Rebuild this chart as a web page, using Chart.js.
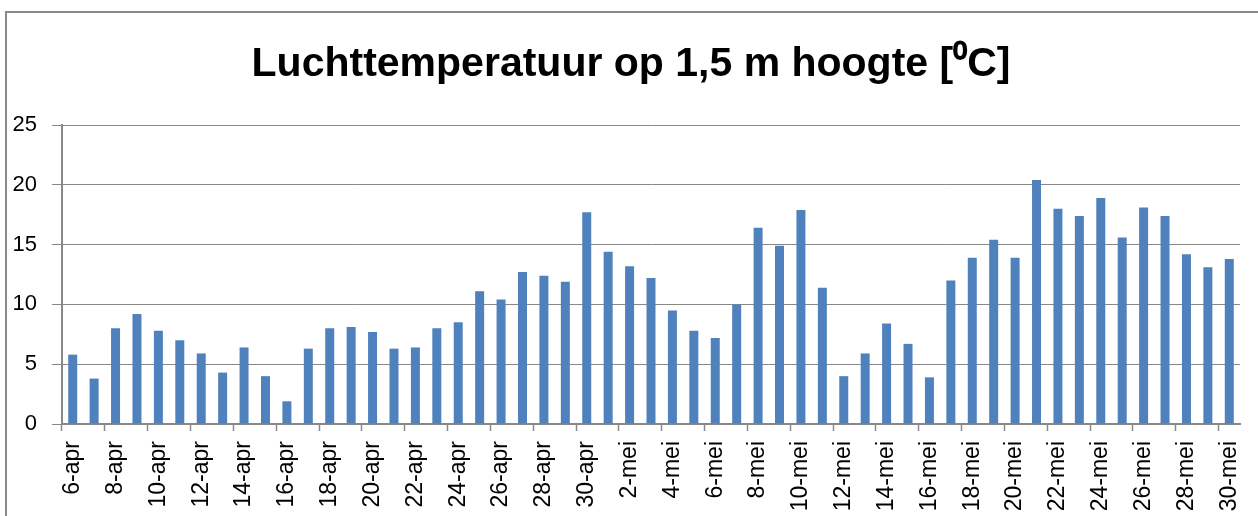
<!DOCTYPE html>
<html>
<head>
<meta charset="utf-8">
<script src="https://cdn.jsdelivr.net/npm/chart.js@4/dist/chart.umd.min.js"></script>
<style>
  html, body { margin: 0; padding: 0; background: #ffffff; overflow: hidden; }
  #wrap { position: relative; width: 1258px; height: 516px; }
  #frame { position: absolute; left: 5px; top: 11px; width: 1300px; height: 600px;
           border-top: 2px solid #8a8a8a; border-left: 2px solid #8a8a8a; pointer-events: none; }
  canvas { position: absolute; left: 0; top: 0; }
</style>
</head>
<body>
<div id="wrap">
  <canvas id="c" width="1258" height="516"></canvas>
  <div id="frame"></div>
</div>
<script>
const chartTitle = "Luchttemperatuur op 1,5 m hoogte [\u2070C]";

const categories = [
  "6-apr","7-apr","8-apr","9-apr","10-apr","11-apr","12-apr","13-apr","14-apr","15-apr",
  "16-apr","17-apr","18-apr","19-apr","20-apr","21-apr","22-apr","23-apr","24-apr","25-apr",
  "26-apr","27-apr","28-apr","29-apr","30-apr",
  "1-mei","2-mei","3-mei","4-mei","5-mei","6-mei","7-mei","8-mei","9-mei","10-mei",
  "11-mei","12-mei","13-mei","14-mei","15-mei","16-mei","17-mei","18-mei","19-mei","20-mei",
  "21-mei","22-mei","23-mei","24-mei","25-mei","26-mei","27-mei","28-mei","29-mei","30-mei"
];

const temperature = [
  5.8, 3.8, 8.0, 9.2, 7.8, 7.0, 5.9, 4.3, 6.4, 4.0,
  1.9, 6.3, 8.0, 8.1, 7.7, 6.3, 6.4, 8.0, 8.5, 11.1,
  10.4, 12.7, 12.4, 11.9, 17.7,
  14.4, 13.2, 12.2, 9.5, 7.8, 7.2, 10.0, 16.4, 14.9, 17.9,
  11.4, 4.0, 5.9, 8.4, 6.7, 3.9, 12.0, 13.9, 15.4, 13.9,
  20.4, 18.0, 17.4, 18.9, 15.6, 18.1, 17.4, 14.2, 13.1, 13.8
];

const yTicks = [0, 5, 10, 15, 20, 25];

const FONT = "'Liberation Sans', Arial, sans-serif";
const GRID = '#888888';

const titlePlugin = {
  id: 'pageTitle',
  afterDraw(chart) {
    const ctx = chart.ctx;
    ctx.save();
    ctx.font = "bold 41px " + FONT;
    ctx.fillStyle = '#000000';
    ctx.textAlign = 'center';
    ctx.textBaseline = 'middle';
    ctx.fillText(chartTitle, 631, 65);
    ctx.restore();
  }
};

new Chart(document.getElementById('c'), {
  type: 'bar',
  data: {
    labels: categories,
    datasets: [{
      label: 'Luchttemperatuur',
      data: temperature,
      backgroundColor: '#4f81bd',
      borderWidth: 0,
      categoryPercentage: 1.0,
      barPercentage: 0.42
    }]
  },
  plugins: [titlePlugin],
  options: {
    responsive: false,
    animation: false,
    devicePixelRatio: 1,
    layout: { padding: { left: 0, right: 18, top: 125, bottom: 0 } },
    plugins: {
      legend: { display: false },
      tooltip: { enabled: false },
      title: { display: false }
    },
    scales: {
      x: {
        offset: true,
        grid: {
          offset: true,
          drawOnChartArea: false,
          drawTicks: true,
          tickLength: 7,
          tickWidth: 1.5,
          tickColor: (ctx) => (ctx.index !== undefined && ctx.index % 2 === 0) ? GRID : 'rgba(0,0,0,0)'
        },
        border: { display: true, color: GRID, width: 2 },
        ticks: {
          autoSkip: false,
          maxRotation: 90,
          minRotation: 90,
          padding: 10,
          color: '#000000',
          font: { family: FONT, size: 23 },
          callback: function (val, index) {
            return index % 2 === 0 ? this.getLabelForValue(val) : '';
          }
        },
        afterFit: (scale) => {
          scale.height = 92;
          scale.paddingLeft = 0;
          scale.paddingRight = 0;
        }
      },
      y: {
        min: 0,
        max: 25,
        afterBuildTicks: (scale) => { scale.ticks = yTicks.map(v => ({ value: v })); },
        grid: {
          color: GRID,
          lineWidth: 1,
          drawTicks: true,
          tickLength: 10,
          tickColor: GRID
        },
        border: { display: true, color: GRID, width: 2 },
        ticks: {
          padding: 15,
          color: '#000000',
          font: { family: FONT, size: 22 }
        },
        afterFit: (scale) => { scale.width = 62; }
      }
    }
  }
});
</script>
</body>
</html>
